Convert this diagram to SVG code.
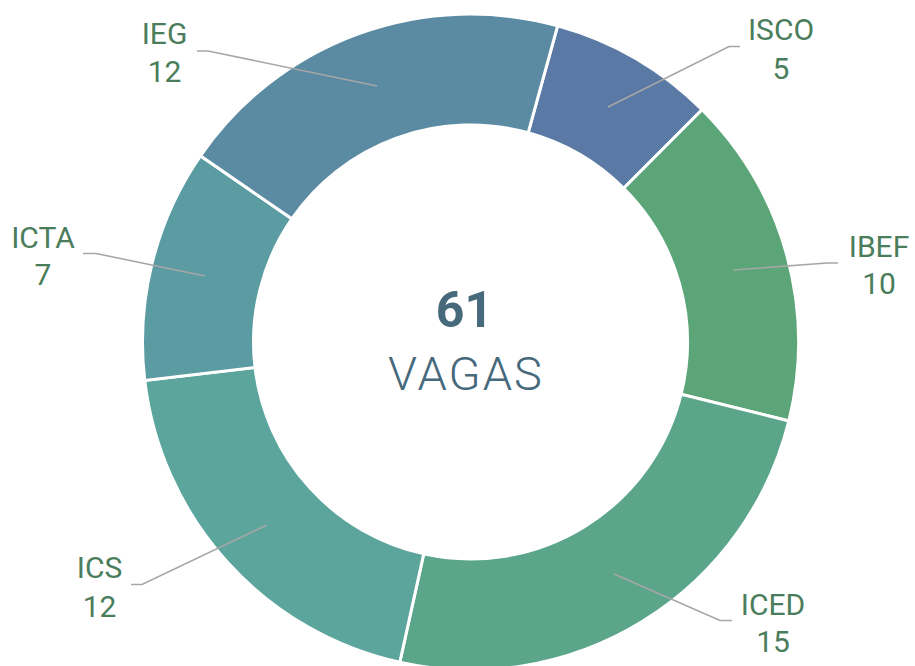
<svg xmlns="http://www.w3.org/2000/svg" width="915" height="666" viewBox="0 0 915 666">
<style>
.seg{stroke:#ffffff;stroke-width:3;stroke-linejoin:miter}
.lbl{font-family:Roboto,"Liberation Sans",sans-serif;font-weight:400;font-size:30px;fill:#4A7D5B;text-anchor:middle}
.lead{fill:none;stroke:#A6A6A6;stroke-width:1.6}
.ctr{font-family:Roboto,"Liberation Sans",sans-serif;fill:#46697C;text-anchor:middle}
</style>
<rect width="915" height="666" fill="#ffffff"/>
<g id="segments">
<g id="node-ISCO"><path class="seg" fill="#5A7AA5" d="M557.60,25.78 A328,328 0 0 1 702.06,109.70 L623.70,188.31 A217,217 0 0 0 528.13,132.79 Z"/></g>
<g id="node-IBEF"><path class="seg" fill="#5BA579" d="M702.06,109.70 A328,328 0 0 1 788.86,420.93 L681.12,394.22 A217,217 0 0 0 623.70,188.31 Z"/></g>
<g id="node-ICED"><path class="seg" fill="#5BA58A" d="M788.86,420.93 A328,328 0 0 1 399.79,662.29 L423.72,553.90 A217,217 0 0 0 681.12,394.22 Z"/></g>
<g id="node-ICS"><path class="seg" fill="#5BA59D" d="M399.79,662.29 A328,328 0 0 1 144.76,380.44 L254.99,367.43 A217,217 0 0 0 423.72,553.90 Z"/></g>
<g id="node-ICTA"><path class="seg" fill="#5B9CA3" d="M144.76,380.44 A328,328 0 0 1 200.45,155.84 L291.84,218.84 A217,217 0 0 0 254.99,367.43 Z"/></g>
<g id="node-IEG"><path class="seg" fill="#5B8BA3" d="M200.45,155.84 A328,328 0 0 1 557.60,25.78 L528.13,132.79 A217,217 0 0 0 291.84,218.84 Z"/></g>
</g>
<g id="connectors">
<polyline class="lead" points="608,107 729,46.5 740,46.5"/>
<polyline class="lead" points="733,270 827,263 838,263"/>
<polyline class="lead" points="614,574 720,620.5 732,620.5"/>
<polyline class="lead" points="267,525 142,584.5 131,584.5"/>
<polyline class="lead" points="205,276 96,253.5 83,253.5"/>
<polyline class="lead" points="377,86 208,51 197,51"/>
</g>
<g id="labels">
<g id="label-ISCO"><text class="lbl" x="781" y="40">ISCO</text><text class="lbl" x="781" y="79">5</text></g>
<g id="label-IBEF"><text class="lbl" x="879" y="257">IBEF</text><text class="lbl" x="879" y="294">10</text></g>
<g id="label-ICED"><text class="lbl" x="773" y="615">ICED</text><text class="lbl" x="773" y="652">15</text></g>
<g id="label-ICS"><text class="lbl" x="99.5" y="578">ICS</text><text class="lbl" x="99.5" y="617">12</text></g>
<g id="label-ICTA"><text class="lbl" x="43" y="248">ICTA</text><text class="lbl" x="43" y="285">7</text></g>
<g id="label-IEG"><text class="lbl" x="164.5" y="44">IEG</text><text class="lbl" x="164.5" y="82">12</text></g>
</g>
<g id="center">
<text class="ctr" x="464.5" y="327" font-size="50" font-weight="700">61</text>
<text class="ctr" x="466" y="390" font-size="47" font-weight="300" letter-spacing="2">VAGAS</text>
</g>
</svg>
